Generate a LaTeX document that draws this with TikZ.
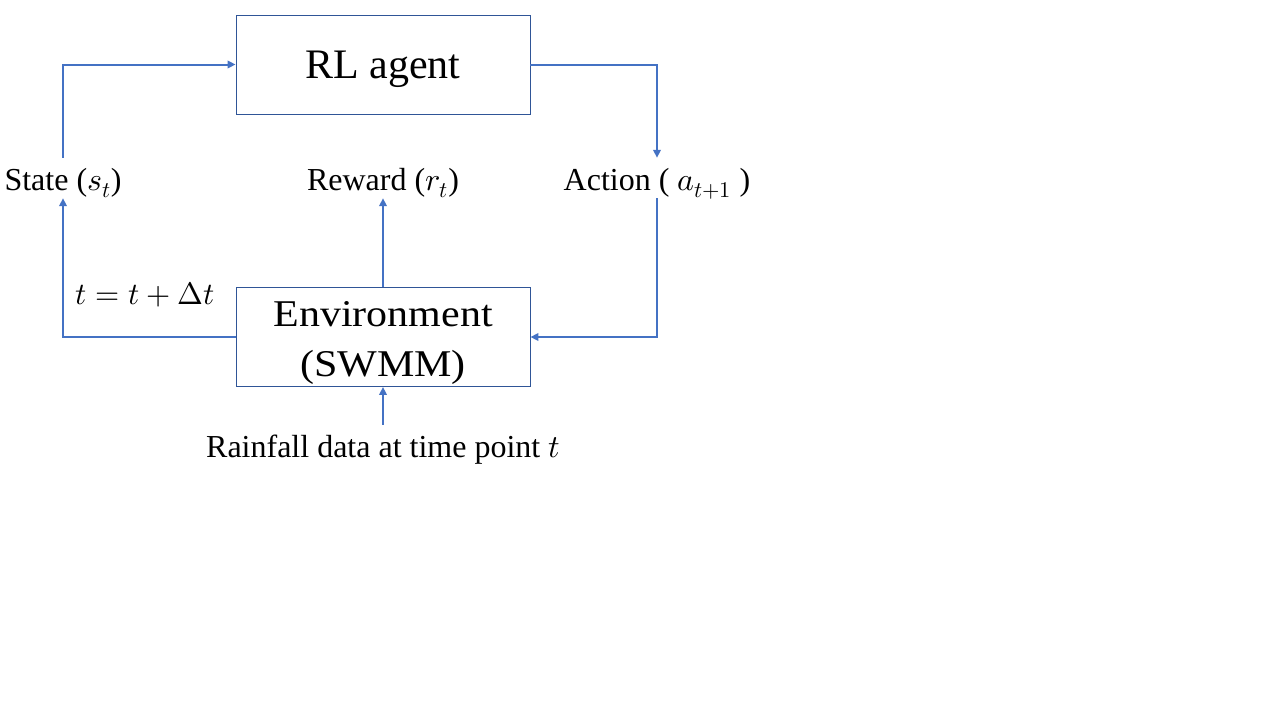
\documentclass[tikz,border=0pt]{standalone}
\usepackage{fontspec}
\usepackage{unicode-math}
\setmainfont{Liberation Serif}
\usetikzlibrary{arrows.meta}
\definecolor{lineblue}{HTML}{4472C4}
\definecolor{boxblue}{HTML}{2F5597}
\tikzset{
  box/.style={draw=boxblue, line width=0.9pt, minimum width=294pt, minimum height=99pt,
    inner sep=0pt, font=\fontsize{42}{50}\selectfont},
  boxtext/.style={inner sep=0pt, align=center, font=\fontsize{42}{50}\selectfont},
  lbl/.style={inner sep=0pt, text height=32pt, text depth=8pt, anchor=base,
    font=\fontsize{32}{38}\selectfont},
  arr/.style={draw=lineblue, line width=2pt, -{Triangle[length=8pt,width=7.5pt]}}
}
\begin{document}
\begin{tikzpicture}[x=1pt,y=-1pt]
\useasboundingbox (0,0) rectangle (1280,720);
\node[box, text depth=0pt] (rl) at (383,64.5) {RL agent};
\node[box] (env) at (383,337) {};
\node[boxtext] (envtxt) at (383,343) {\scalebox{1}[0.9]{Environment}\\\scalebox{1}[0.9]{(SWMM)}};
\node[lbl] (st) at (63,190) {State ($s_t$)};
\node[lbl] (rw) at (383,190) {Reward ($r_t$)};
\node[lbl] (act) at (657,190) {Action ( $a_{t+1}$ )};
\node[lbl, font=\fontsize{31}{38}\selectfont] (dt) at (145,304) {$t=t+\Delta t$};
\node[lbl] (rain) at (383,457) {Rainfall data at time point $t$};
\draw[arr] (st.north) |- (rl.west);
\draw[arr] (rl.east) -| (act.north);
\draw[arr] (act.south) |- (env.east);
\draw[arr] (env.west) -| (st.south);
\draw[arr] (env.north) -- (rw.south);
\draw[arr] (rain.north) -- (env.south);
\end{tikzpicture}
\end{document}
